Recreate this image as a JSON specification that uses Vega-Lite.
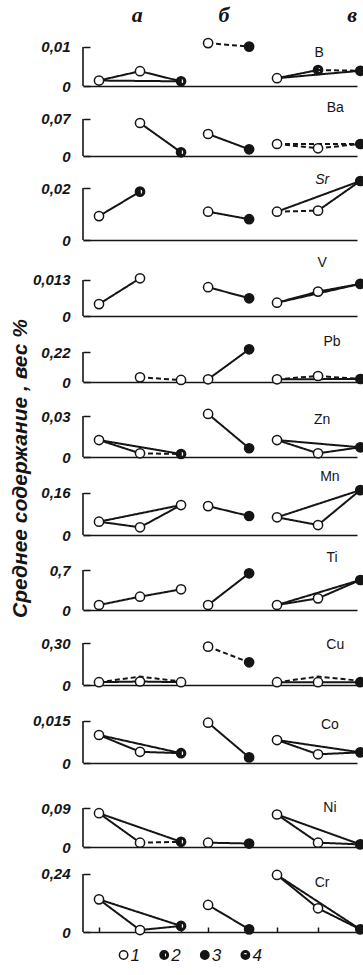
{
"$schema": "https://vega.github.io/schema/vega-lite/v6.json",
"autosize": {"type": "pad"},
"padding": {"left": 8, "top": 0, "right": 0, "bottom": 5},
"spacing": 12,
"bounds": "flush",
"datasets": {
"hdr": [{"h":"а","p":1.93},{"h":"б","p":4.05},{"h":"в","p":7.17}],
"leg": [{"t":"1"},{"t":"2"},{"t":"3"},{"t":"4"}],
"lab": [
{"el":"B","top":0.01,"ly":0.0085,"lp":6.37},
{"el":"Ba","top":0.07,"ly":0.0908,"lp":6.76},
{"el":"Sr","top":0.02,"ly":0.0231,"lp":6.44},
{"el":"V","top":0.013,"ly":0.0191,"lp":6.44},
{"el":"Pb","top":0.22,"ly":0.293,"lp":6.68},
{"el":"Zn","top":0.03,"ly":0.0271,"lp":6.44},
{"el":"Mn","top":0.16,"ly":0.221,"lp":6.63},
{"el":"Ti","top":0.7,"ly":0.91,"lp":6.68},
{"el":"Cu","top":0.3,"ly":0.286,"lp":6.76},
{"el":"Co","top":0.015,"ly":0.0136,"lp":6.63},
{"el":"Ni","top":0.09,"ly":0.09,"lp":6.63},
{"el":"Cr","top":0.24,"ly":0.203,"lp":6.44}
],
"pts": [
{"el":"B","p":1,"v":0.0014,"t":"1"},{"el":"B","p":2,"v":0.0038,"t":"1"},{"el":"B","p":3,"v":0.0012,"t":"2"},{"el":"B","p":3.66,"v":0.011,"t":"1"},{"el":"B","p":4.66,"v":0.0101,"t":"3"},{"el":"B","p":5.34,"v":0.002,"t":"1"},{"el":"B","p":6.34,"v":0.0041,"t":"2"},{"el":"B","p":7.37,"v":0.0039,"t":"3"},
{"el":"Ba","p":2,"v":0.0624,"t":"1"},{"el":"Ba","p":3,"v":0.007,"t":"2"},{"el":"Ba","p":3.66,"v":0.0416,"t":"1"},{"el":"Ba","p":4.66,"v":0.0127,"t":"3"},{"el":"Ba","p":5.34,"v":0.0227,"t":"1"},{"el":"Ba","p":6.34,"v":0.0146,"t":"1"},{"el":"Ba","p":7.37,"v":0.0227,"t":"3"},
{"el":"Sr","p":1,"v":0.0092,"t":"1"},{"el":"Sr","p":2,"v":0.0186,"t":"2"},{"el":"Sr","p":3.66,"v":0.0109,"t":"1"},{"el":"Sr","p":4.66,"v":0.008,"t":"3"},{"el":"Sr","p":5.34,"v":0.0109,"t":"1"},{"el":"Sr","p":6.34,"v":0.0113,"t":"1"},{"el":"Sr","p":7.37,"v":0.0227,"t":"3"},
{"el":"V","p":1,"v":0.0043,"t":"1"},{"el":"V","p":2,"v":0.0136,"t":"1"},{"el":"V","p":3.66,"v":0.0104,"t":"1"},{"el":"V","p":4.66,"v":0.0064,"t":"3"},{"el":"V","p":5.34,"v":0.0048,"t":"1"},{"el":"V","p":6.34,"v":0.0088,"t":"1"},{"el":"V","p":7.37,"v":0.0116,"t":"3"},
{"el":"Pb","p":2,"v":0.034,"t":"1"},{"el":"Pb","p":3,"v":0.015,"t":"1"},{"el":"Pb","p":3.66,"v":0.02,"t":"1"},{"el":"Pb","p":4.66,"v":0.24,"t":"3"},{"el":"Pb","p":5.34,"v":0.02,"t":"1"},{"el":"Pb","p":6.34,"v":0.044,"t":"1"},{"el":"Pb","p":7.37,"v":0.022,"t":"3"},
{"el":"Zn","p":1,"v":0.0124,"t":"1"},{"el":"Zn","p":2,"v":0.0027,"t":"1"},{"el":"Zn","p":3,"v":0.0022,"t":"2"},{"el":"Zn","p":3.66,"v":0.0315,"t":"1"},{"el":"Zn","p":4.66,"v":0.0064,"t":"3"},{"el":"Zn","p":5.34,"v":0.0124,"t":"1"},{"el":"Zn","p":6.34,"v":0.0027,"t":"1"},{"el":"Zn","p":7.37,"v":0.0071,"t":"3"},
{"el":"Mn","p":1,"v":0.0507,"t":"1"},{"el":"Mn","p":2,"v":0.0293,"t":"1"},{"el":"Mn","p":3,"v":0.114,"t":"1"},{"el":"Mn","p":3.66,"v":0.11,"t":"1"},{"el":"Mn","p":4.66,"v":0.0724,"t":"3"},{"el":"Mn","p":5.34,"v":0.0674,"t":"1"},{"el":"Mn","p":6.34,"v":0.038,"t":"1"},{"el":"Mn","p":7.37,"v":0.171,"t":"3"},
{"el":"Ti","p":1,"v":0.0875,"t":"1"},{"el":"Ti","p":2,"v":0.233,"t":"1"},{"el":"Ti","p":3,"v":0.362,"t":"1"},{"el":"Ti","p":3.66,"v":0.0875,"t":"1"},{"el":"Ti","p":4.66,"v":0.642,"t":"3"},{"el":"Ti","p":5.34,"v":0.0875,"t":"1"},{"el":"Ti","p":6.34,"v":0.204,"t":"1"},{"el":"Ti","p":7.37,"v":0.525,"t":"3"},
{"el":"Cu","p":1,"v":0.02,"t":"1"},{"el":"Cu","p":2,"v":0.025,"t":"1"},{"el":"Cu","p":3,"v":0.02,"t":"1"},{"el":"Cu","p":3.66,"v":0.274,"t":"1"},{"el":"Cu","p":4.66,"v":0.162,"t":"3"},{"el":"Cu","p":5.34,"v":0.02,"t":"1"},{"el":"Cu","p":6.34,"v":0.02,"t":"1"},{"el":"Cu","p":7.37,"v":0.02,"t":"3"},
{"el":"Co","p":1,"v":0.01,"t":"1"},{"el":"Co","p":2,"v":0.004,"t":"1"},{"el":"Co","p":3,"v":0.0035,"t":"2"},{"el":"Co","p":3.66,"v":0.0144,"t":"1"},{"el":"Co","p":4.66,"v":0.002,"t":"3"},{"el":"Co","p":5.34,"v":0.0082,"t":"1"},{"el":"Co","p":6.34,"v":0.0031,"t":"1"},{"el":"Co","p":7.37,"v":0.0038,"t":"3"},
{"el":"Ni","p":1,"v":0.078,"t":"1"},{"el":"Ni","p":2,"v":0.01,"t":"1"},{"el":"Ni","p":3,"v":0.012,"t":"2"},{"el":"Ni","p":3.66,"v":0.01,"t":"1"},{"el":"Ni","p":4.66,"v":0.008,"t":"3"},{"el":"Ni","p":5.34,"v":0.075,"t":"1"},{"el":"Ni","p":6.34,"v":0.01,"t":"1"},{"el":"Ni","p":7.37,"v":0.006,"t":"3"},
{"el":"Cr","p":1,"v":0.135,"t":"1"},{"el":"Cr","p":2,"v":0.008,"t":"1"},{"el":"Cr","p":3,"v":0.025,"t":"2"},{"el":"Cr","p":3.66,"v":0.112,"t":"1"},{"el":"Cr","p":4.66,"v":0.011,"t":"3"},{"el":"Cr","p":5.34,"v":0.236,"t":"1"},{"el":"Cr","p":6.34,"v":0.098,"t":"1"},{"el":"Cr","p":7.37,"v":0.011,"t":"3"}
],
"segs": [
{"el":"B","s":"B1","d":"s","p":1,"v":0.0014},{"el":"B","s":"B1","d":"s","p":2,"v":0.0038},
{"el":"B","s":"B2","d":"s","p":2,"v":0.0038},{"el":"B","s":"B2","d":"s","p":3,"v":0.0012},
{"el":"B","s":"B3","d":"s","p":1,"v":0.0014},{"el":"B","s":"B3","d":"s","p":3,"v":0.0012},
{"el":"B","s":"B4","d":"d","p":3.66,"v":0.011},{"el":"B","s":"B4","d":"d","p":4.66,"v":0.0101},
{"el":"B","s":"B5","d":"s","p":5.34,"v":0.002},{"el":"B","s":"B5","d":"s","p":6.34,"v":0.0041},
{"el":"B","s":"B6","d":"d","p":6.34,"v":0.0041},{"el":"B","s":"B6","d":"d","p":7.37,"v":0.0039},
{"el":"B","s":"B7","d":"s","p":5.34,"v":0.002},{"el":"B","s":"B7","d":"s","p":7.37,"v":0.0039},
{"el":"Ba","s":"Ba1","d":"s","p":2,"v":0.0624},{"el":"Ba","s":"Ba1","d":"s","p":3,"v":0.007},
{"el":"Ba","s":"Ba2","d":"s","p":3.66,"v":0.0416},{"el":"Ba","s":"Ba2","d":"s","p":4.66,"v":0.0127},
{"el":"Ba","s":"Ba3","d":"d","p":5.34,"v":0.0227},{"el":"Ba","s":"Ba3","d":"d","p":6.34,"v":0.0146},
{"el":"Ba","s":"Ba4","d":"d","p":6.34,"v":0.0146},{"el":"Ba","s":"Ba4","d":"d","p":7.37,"v":0.0227},
{"el":"Ba","s":"Ba5","d":"d","p":5.34,"v":0.0227},{"el":"Ba","s":"Ba5","d":"d","p":7.37,"v":0.0227},
{"el":"Sr","s":"Sr1","d":"s","p":1,"v":0.0092},{"el":"Sr","s":"Sr1","d":"s","p":2,"v":0.0186},
{"el":"Sr","s":"Sr2","d":"s","p":3.66,"v":0.0109},{"el":"Sr","s":"Sr2","d":"s","p":4.66,"v":0.008},
{"el":"Sr","s":"Sr3","d":"s","p":5.34,"v":0.0109},{"el":"Sr","s":"Sr3","d":"s","p":7.37,"v":0.0227},
{"el":"Sr","s":"Sr4","d":"s","p":6.34,"v":0.0113},{"el":"Sr","s":"Sr4","d":"s","p":7.37,"v":0.0227},
{"el":"Sr","s":"Sr5","d":"d","p":5.34,"v":0.0109},{"el":"Sr","s":"Sr5","d":"d","p":6.34,"v":0.0113},
{"el":"V","s":"V1","d":"s","p":1,"v":0.0043},{"el":"V","s":"V1","d":"s","p":2,"v":0.0136},
{"el":"V","s":"V2","d":"s","p":3.66,"v":0.0104},{"el":"V","s":"V2","d":"s","p":4.66,"v":0.0064},
{"el":"V","s":"V3","d":"s","p":5.34,"v":0.0048},{"el":"V","s":"V3","d":"s","p":6.34,"v":0.0088},
{"el":"V","s":"V4","d":"s","p":6.34,"v":0.0088},{"el":"V","s":"V4","d":"s","p":7.37,"v":0.0116},
{"el":"V","s":"V5","d":"s","p":5.34,"v":0.0048},{"el":"V","s":"V5","d":"s","p":7.37,"v":0.0116},
{"el":"Pb","s":"Pb1","d":"d","p":2,"v":0.034},{"el":"Pb","s":"Pb1","d":"d","p":3,"v":0.015},
{"el":"Pb","s":"Pb2","d":"s","p":3.66,"v":0.02},{"el":"Pb","s":"Pb2","d":"s","p":4.66,"v":0.24},
{"el":"Pb","s":"Pb3","d":"s","p":5.34,"v":0.02},{"el":"Pb","s":"Pb3","d":"s","p":7.37,"v":0.022},
{"el":"Pb","s":"Pb4","d":"d","p":5.34,"v":0.02},{"el":"Pb","s":"Pb4","d":"d","p":6.34,"v":0.044},
{"el":"Pb","s":"Pb5","d":"d","p":6.34,"v":0.044},{"el":"Pb","s":"Pb5","d":"d","p":7.37,"v":0.022},
{"el":"Zn","s":"Zn1","d":"s","p":1,"v":0.0124},{"el":"Zn","s":"Zn1","d":"s","p":2,"v":0.0027},
{"el":"Zn","s":"Zn2","d":"s","p":1,"v":0.0124},{"el":"Zn","s":"Zn2","d":"s","p":3,"v":0.0022},
{"el":"Zn","s":"Zn3","d":"d","p":2,"v":0.0027},{"el":"Zn","s":"Zn3","d":"d","p":3,"v":0.0022},
{"el":"Zn","s":"Zn4","d":"s","p":3.66,"v":0.0315},{"el":"Zn","s":"Zn4","d":"s","p":4.66,"v":0.0064},
{"el":"Zn","s":"Zn5","d":"s","p":5.34,"v":0.0124},{"el":"Zn","s":"Zn5","d":"s","p":6.34,"v":0.0027},
{"el":"Zn","s":"Zn6","d":"s","p":6.34,"v":0.0027},{"el":"Zn","s":"Zn6","d":"s","p":7.37,"v":0.0071},
{"el":"Zn","s":"Zn7","d":"s","p":5.34,"v":0.0124},{"el":"Zn","s":"Zn7","d":"s","p":7.37,"v":0.0071},
{"el":"Mn","s":"Mn1","d":"s","p":1,"v":0.0507},{"el":"Mn","s":"Mn1","d":"s","p":2,"v":0.0293},
{"el":"Mn","s":"Mn2","d":"s","p":2,"v":0.0293},{"el":"Mn","s":"Mn2","d":"s","p":3,"v":0.114},
{"el":"Mn","s":"Mn3","d":"s","p":1,"v":0.0507},{"el":"Mn","s":"Mn3","d":"s","p":3,"v":0.114},
{"el":"Mn","s":"Mn4","d":"s","p":3.66,"v":0.11},{"el":"Mn","s":"Mn4","d":"s","p":4.66,"v":0.0724},
{"el":"Mn","s":"Mn5","d":"s","p":5.34,"v":0.0674},{"el":"Mn","s":"Mn5","d":"s","p":6.34,"v":0.038},
{"el":"Mn","s":"Mn6","d":"s","p":6.34,"v":0.038},{"el":"Mn","s":"Mn6","d":"s","p":7.37,"v":0.171},
{"el":"Mn","s":"Mn7","d":"s","p":5.34,"v":0.0674},{"el":"Mn","s":"Mn7","d":"s","p":7.37,"v":0.171},
{"el":"Ti","s":"Ti1","d":"s","p":1,"v":0.0875},{"el":"Ti","s":"Ti1","d":"s","p":2,"v":0.233},
{"el":"Ti","s":"Ti2","d":"s","p":2,"v":0.233},{"el":"Ti","s":"Ti2","d":"s","p":3,"v":0.362},
{"el":"Ti","s":"Ti3","d":"s","p":3.66,"v":0.0875},{"el":"Ti","s":"Ti3","d":"s","p":4.66,"v":0.642},
{"el":"Ti","s":"Ti4","d":"s","p":5.34,"v":0.0875},{"el":"Ti","s":"Ti4","d":"s","p":6.34,"v":0.204},
{"el":"Ti","s":"Ti5","d":"s","p":6.34,"v":0.204},{"el":"Ti","s":"Ti5","d":"s","p":7.37,"v":0.525},
{"el":"Ti","s":"Ti6","d":"s","p":5.34,"v":0.0875},{"el":"Ti","s":"Ti6","d":"s","p":7.37,"v":0.525},
{"el":"Cu","s":"Cu1","d":"s","p":1,"v":0.02},{"el":"Cu","s":"Cu1","d":"s","p":2,"v":0.025},
{"el":"Cu","s":"Cu2","d":"s","p":2,"v":0.025},{"el":"Cu","s":"Cu2","d":"s","p":3,"v":0.02},
{"el":"Cu","s":"Cu3","d":"d","p":1,"v":0.02},{"el":"Cu","s":"Cu3","d":"d","p":2,"v":0.06},{"el":"Cu","s":"Cu3","d":"d","p":3,"v":0.025},
{"el":"Cu","s":"Cu4","d":"d","p":3.66,"v":0.274},{"el":"Cu","s":"Cu4","d":"d","p":4.66,"v":0.162},
{"el":"Cu","s":"Cu5","d":"s","p":5.34,"v":0.02},{"el":"Cu","s":"Cu5","d":"s","p":6.34,"v":0.02},
{"el":"Cu","s":"Cu6","d":"s","p":6.34,"v":0.02},{"el":"Cu","s":"Cu6","d":"s","p":7.37,"v":0.02},
{"el":"Cu","s":"Cu7","d":"d","p":5.34,"v":0.02},{"el":"Cu","s":"Cu7","d":"d","p":6.34,"v":0.06},{"el":"Cu","s":"Cu7","d":"d","p":7.37,"v":0.03},
{"el":"Co","s":"Co1","d":"s","p":1,"v":0.01},{"el":"Co","s":"Co1","d":"s","p":2,"v":0.004},
{"el":"Co","s":"Co2","d":"s","p":2,"v":0.004},{"el":"Co","s":"Co2","d":"s","p":3,"v":0.0035},
{"el":"Co","s":"Co3","d":"s","p":1,"v":0.01},{"el":"Co","s":"Co3","d":"s","p":3,"v":0.0035},
{"el":"Co","s":"Co4","d":"s","p":3.66,"v":0.0144},{"el":"Co","s":"Co4","d":"s","p":4.66,"v":0.002},
{"el":"Co","s":"Co5","d":"s","p":5.34,"v":0.0082},{"el":"Co","s":"Co5","d":"s","p":6.34,"v":0.0031},
{"el":"Co","s":"Co6","d":"s","p":6.34,"v":0.0031},{"el":"Co","s":"Co6","d":"s","p":7.37,"v":0.0038},
{"el":"Co","s":"Co7","d":"s","p":5.34,"v":0.0082},{"el":"Co","s":"Co7","d":"s","p":7.37,"v":0.0038},
{"el":"Ni","s":"Ni1","d":"s","p":1,"v":0.078},{"el":"Ni","s":"Ni1","d":"s","p":2,"v":0.01},
{"el":"Ni","s":"Ni2","d":"s","p":1,"v":0.078},{"el":"Ni","s":"Ni2","d":"s","p":3,"v":0.012},
{"el":"Ni","s":"Ni3","d":"d","p":2,"v":0.01},{"el":"Ni","s":"Ni3","d":"d","p":3,"v":0.012},
{"el":"Ni","s":"Ni4","d":"s","p":3.66,"v":0.01},{"el":"Ni","s":"Ni4","d":"s","p":4.66,"v":0.008},
{"el":"Ni","s":"Ni5","d":"s","p":5.34,"v":0.075},{"el":"Ni","s":"Ni5","d":"s","p":6.34,"v":0.01},
{"el":"Ni","s":"Ni6","d":"s","p":5.34,"v":0.075},{"el":"Ni","s":"Ni6","d":"s","p":7.37,"v":0.006},
{"el":"Ni","s":"Ni7","d":"s","p":6.34,"v":0.01},{"el":"Ni","s":"Ni7","d":"s","p":7.37,"v":0.006},
{"el":"Cr","s":"Cr1","d":"s","p":1,"v":0.135},{"el":"Cr","s":"Cr1","d":"s","p":2,"v":0.008},
{"el":"Cr","s":"Cr2","d":"s","p":1,"v":0.135},{"el":"Cr","s":"Cr2","d":"s","p":3,"v":0.025},
{"el":"Cr","s":"Cr3","d":"s","p":2,"v":0.008},{"el":"Cr","s":"Cr3","d":"s","p":3,"v":0.025},
{"el":"Cr","s":"Cr4","d":"s","p":3.66,"v":0.112},{"el":"Cr","s":"Cr4","d":"s","p":4.66,"v":0.011},
{"el":"Cr","s":"Cr5","d":"s","p":5.34,"v":0.236},{"el":"Cr","s":"Cr5","d":"s","p":6.34,"v":0.098},
{"el":"Cr","s":"Cr6","d":"s","p":6.34,"v":0.098},{"el":"Cr","s":"Cr6","d":"s","p":7.37,"v":0.011},
{"el":"Cr","s":"Cr7","d":"s","p":5.34,"v":0.236},{"el":"Cr","s":"Cr7","d":"s","p":7.37,"v":0.011}
]
},
"vconcat": [
{"height":30,"width":274,"data":{"name":"hdr"},"mark":{"type":"text","font":"Liberation Serif","fontSize":22,"fontStyle":"italic","fontWeight":"bold","color":"#151515"},"encoding":{"x":{"field":"p","type":"quantitative","title":null,"axis":null,"scale":{"domain":[0.61,7.29],"nice":false,"zero":false}},"text":{"field":"h","type":"nominal"}}},
{"height":44,"width":274,"layer":[
{"data":{"name":"lab"},"transform":[{"filter":"datum.el=='B'"},{"calculate":"0.61","as":"x0"},{"calculate":"0","as":"z"}],"mark":{"type":"rule","color":"#151515","strokeWidth":1.6},"encoding":{"x":{"field":"x0","type":"quantitative","title":null,"scale":{"domain":[0.61,7.29],"nice":false,"zero":false}},"y":{"field":"z","type":"quantitative","title":null,"scale":{"domain":[0,0.01128],"nice":false}},"y2":{"field":"top"}}},
{"data":{"name":"segs"},"transform":[{"filter":"datum.el=='B'"}],"mark":{"type":"line","color":"#151515","strokeWidth":2},"encoding":{"x":{"field":"p","type":"quantitative","title":null,"scale":{"domain":[0.61,7.29],"nice":false,"zero":false}},"y":{"field":"v","type":"quantitative","title":null,"scale":{"domain":[0,0.01128],"nice":false},"axis":{"values":[0,0.005,0.01],"labelExpr":"datum.value==0?'0':datum.value==0.01?'0,01':''"}},"detail":{"field":"s","type":"nominal"},"strokeDash":{"field":"d","type":"nominal","scale":{"domain":["s","d"],"range":[[1,0],[5,3]]},"legend":null}}},
{"data":{"name":"pts"},"transform":[{"filter":"datum.el=='B'"}],"mark":{"type":"point","filled":false,"color":"#151515","stroke":"#151515","strokeWidth":1.5,"size":85,"opacity":1},"encoding":{"x":{"field":"p","type":"quantitative","title":null,"scale":{"domain":[0.61,7.29],"nice":false,"zero":false}},"y":{"field":"v","type":"quantitative","title":null,"scale":{"domain":[0,0.01128],"nice":false}},"shape":{"field":"t","type":"nominal","legend":null,"scale":{"domain":["1","2","3","4"],"range":["circle","M1,0A1,1,0,1,1,-1,0A1,1,0,1,1,1,0ZM0.65,0A0.65,0.65,0,1,0,-0.65,0A0.65,0.65,0,1,0,0.65,0ZM0,-0.65A0.65,0.65,0,0,0,0,0.65Z","circle","M1,0A1,1,0,1,1,-1,0A1,1,0,1,1,1,0ZM0.65,0A0.65,0.65,0,1,0,-0.65,0A0.65,0.65,0,1,0,0.65,0ZM-0.65,0A0.65,0.65,0,0,0,0.65,0Z"]}},"fill":{"field":"t","type":"nominal","legend":null,"scale":{"domain":["1","2","3","4"],"range":["#ffffff","#151515","#151515","#151515"]}}}},
{"data":{"name":"lab"},"transform":[{"filter":"datum.el=='B'"}],"mark":{"type":"text","font":"Liberation Sans","fontSize":14,"color":"#151515"},"encoding":{"x":{"field":"lp","type":"quantitative","title":null,"scale":{"domain":[0.61,7.29],"nice":false,"zero":false}},"y":{"field":"ly","type":"quantitative","title":null,"scale":{"domain":[0,0.01128],"nice":false}},"text":{"field":"el","type":"nominal"}}}
]},
{"height":58,"width":274,"layer":[
{"data":{"name":"lab"},"transform":[{"filter":"datum.el=='Ba'"},{"calculate":"0.61","as":"x0"},{"calculate":"0","as":"z"}],"mark":{"type":"rule","color":"#151515","strokeWidth":1.6},"encoding":{"x":{"field":"x0","type":"quantitative","title":null,"scale":{"domain":[0.61,7.29],"nice":false,"zero":false}},"y":{"field":"z","type":"quantitative","title":null,"scale":{"domain":[0,0.1097],"nice":false}},"y2":{"field":"top"}}},
{"data":{"name":"segs"},"transform":[{"filter":"datum.el=='Ba'"}],"mark":{"type":"line","color":"#151515","strokeWidth":2},"encoding":{"x":{"field":"p","type":"quantitative","title":null,"scale":{"domain":[0.61,7.29],"nice":false,"zero":false}},"y":{"field":"v","type":"quantitative","title":null,"scale":{"domain":[0,0.1097],"nice":false},"axis":{"values":[0,0.035,0.07],"labelExpr":"datum.value==0?'0':datum.value==0.07?'0,07':''"}},"detail":{"field":"s","type":"nominal"},"strokeDash":{"field":"d","type":"nominal","scale":{"domain":["s","d"],"range":[[1,0],[5,3]]},"legend":null}}},
{"data":{"name":"pts"},"transform":[{"filter":"datum.el=='Ba'"}],"mark":{"type":"point","filled":false,"color":"#151515","stroke":"#151515","strokeWidth":1.5,"size":85,"opacity":1},"encoding":{"x":{"field":"p","type":"quantitative","title":null,"scale":{"domain":[0.61,7.29],"nice":false,"zero":false}},"y":{"field":"v","type":"quantitative","title":null,"scale":{"domain":[0,0.1097],"nice":false}},"shape":{"field":"t","type":"nominal","legend":null},"fill":{"field":"t","type":"nominal","legend":null}}},
{"data":{"name":"lab"},"transform":[{"filter":"datum.el=='Ba'"}],"mark":{"type":"text","font":"Liberation Sans","fontSize":14,"color":"#151515"},"encoding":{"x":{"field":"lp","type":"quantitative","title":null,"scale":{"domain":[0.61,7.29],"nice":false,"zero":false}},"y":{"field":"ly","type":"quantitative","title":null,"scale":{"domain":[0,0.1097],"nice":false}},"text":{"field":"el","type":"nominal"}}}
]},
{"height":72,"width":274,"layer":[
{"data":{"name":"lab"},"transform":[{"filter":"datum.el=='Sr'"},{"calculate":"0.61","as":"x0"},{"calculate":"0","as":"z"}],"mark":{"type":"rule","color":"#151515","strokeWidth":1.6},"encoding":{"x":{"field":"x0","type":"quantitative","title":null,"scale":{"domain":[0.61,7.29],"nice":false,"zero":false}},"y":{"field":"z","type":"quantitative","title":null,"scale":{"domain":[0,0.0277],"nice":false}},"y2":{"field":"top"}}},
{"data":{"name":"segs"},"transform":[{"filter":"datum.el=='Sr'"}],"mark":{"type":"line","color":"#151515","strokeWidth":2},"encoding":{"x":{"field":"p","type":"quantitative","title":null,"scale":{"domain":[0.61,7.29],"nice":false,"zero":false}},"y":{"field":"v","type":"quantitative","title":null,"scale":{"domain":[0,0.0277],"nice":false},"axis":{"values":[0,0.01,0.02],"labelExpr":"datum.value==0?'0':datum.value==0.02?'0,02':''"}},"detail":{"field":"s","type":"nominal"},"strokeDash":{"field":"d","type":"nominal","scale":{"domain":["s","d"],"range":[[1,0],[5,3]]},"legend":null}}},
{"data":{"name":"pts"},"transform":[{"filter":"datum.el=='Sr'"}],"mark":{"type":"point","filled":false,"color":"#151515","stroke":"#151515","strokeWidth":1.5,"size":85,"opacity":1},"encoding":{"x":{"field":"p","type":"quantitative","title":null,"scale":{"domain":[0.61,7.29],"nice":false,"zero":false}},"y":{"field":"v","type":"quantitative","title":null,"scale":{"domain":[0,0.0277],"nice":false}},"shape":{"field":"t","type":"nominal","legend":null},"fill":{"field":"t","type":"nominal","legend":null}}},
{"data":{"name":"lab"},"transform":[{"filter":"datum.el=='Sr'"}],"mark":{"type":"text","font":"Liberation Sans","fontSize":14,"fontStyle":"italic","color":"#151515"},"encoding":{"x":{"field":"lp","type":"quantitative","title":null,"scale":{"domain":[0.61,7.29],"nice":false,"zero":false}},"y":{"field":"ly","type":"quantitative","title":null,"scale":{"domain":[0,0.0277],"nice":false}},"text":{"field":"el","type":"nominal"}}}
]},
{"height":64,"width":274,"layer":[
{"data":{"name":"lab"},"transform":[{"filter":"datum.el=='V'"},{"calculate":"0.61","as":"x0"},{"calculate":"0","as":"z"}],"mark":{"type":"rule","color":"#151515","strokeWidth":1.6},"encoding":{"x":{"field":"x0","type":"quantitative","title":null,"scale":{"domain":[0.61,7.29],"nice":false,"zero":false}},"y":{"field":"z","type":"quantitative","title":null,"scale":{"domain":[0,0.0231],"nice":false}},"y2":{"field":"top"}}},
{"data":{"name":"segs"},"transform":[{"filter":"datum.el=='V'"}],"mark":{"type":"line","color":"#151515","strokeWidth":2},"encoding":{"x":{"field":"p","type":"quantitative","title":null,"scale":{"domain":[0.61,7.29],"nice":false,"zero":false}},"y":{"field":"v","type":"quantitative","title":null,"scale":{"domain":[0,0.0231],"nice":false},"axis":{"values":[0,0.0065,0.013],"labelExpr":"datum.value==0?'0':datum.value==0.013?'0,013':''"}},"detail":{"field":"s","type":"nominal"},"strokeDash":{"field":"d","type":"nominal","scale":{"domain":["s","d"],"range":[[1,0],[5,3]]},"legend":null}}},
{"data":{"name":"pts"},"transform":[{"filter":"datum.el=='V'"}],"mark":{"type":"point","filled":false,"color":"#151515","stroke":"#151515","strokeWidth":1.5,"size":85,"opacity":1},"encoding":{"x":{"field":"p","type":"quantitative","title":null,"scale":{"domain":[0.61,7.29],"nice":false,"zero":false}},"y":{"field":"v","type":"quantitative","title":null,"scale":{"domain":[0,0.0231],"nice":false}},"shape":{"field":"t","type":"nominal","legend":null},"fill":{"field":"t","type":"nominal","legend":null}}},
{"data":{"name":"lab"},"transform":[{"filter":"datum.el=='V'"}],"mark":{"type":"text","font":"Liberation Sans","fontSize":14,"color":"#151515"},"encoding":{"x":{"field":"lp","type":"quantitative","title":null,"scale":{"domain":[0.61,7.29],"nice":false,"zero":false}},"y":{"field":"ly","type":"quantitative","title":null,"scale":{"domain":[0,0.0231],"nice":false}},"text":{"field":"el","type":"nominal"}}}
]},
{"height":54,"width":274,"layer":[
{"data":{"name":"lab"},"transform":[{"filter":"datum.el=='Pb'"},{"calculate":"0.61","as":"x0"},{"calculate":"0","as":"z"}],"mark":{"type":"rule","color":"#151515","strokeWidth":1.6},"encoding":{"x":{"field":"x0","type":"quantitative","title":null,"scale":{"domain":[0.61,7.29],"nice":false,"zero":false}},"y":{"field":"z","type":"quantitative","title":null,"scale":{"domain":[0,0.396],"nice":false}},"y2":{"field":"top"}}},
{"data":{"name":"segs"},"transform":[{"filter":"datum.el=='Pb'"}],"mark":{"type":"line","color":"#151515","strokeWidth":2},"encoding":{"x":{"field":"p","type":"quantitative","title":null,"scale":{"domain":[0.61,7.29],"nice":false,"zero":false}},"y":{"field":"v","type":"quantitative","title":null,"scale":{"domain":[0,0.396],"nice":false},"axis":{"values":[0,0.11,0.22],"labelExpr":"datum.value==0?'0':datum.value==0.22?'0,22':''"}},"detail":{"field":"s","type":"nominal"},"strokeDash":{"field":"d","type":"nominal","scale":{"domain":["s","d"],"range":[[1,0],[5,3]]},"legend":null}}},
{"data":{"name":"pts"},"transform":[{"filter":"datum.el=='Pb'"}],"mark":{"type":"point","filled":false,"color":"#151515","stroke":"#151515","strokeWidth":1.5,"size":85,"opacity":1},"encoding":{"x":{"field":"p","type":"quantitative","title":null,"scale":{"domain":[0.61,7.29],"nice":false,"zero":false}},"y":{"field":"v","type":"quantitative","title":null,"scale":{"domain":[0,0.396],"nice":false}},"shape":{"field":"t","type":"nominal","legend":null},"fill":{"field":"t","type":"nominal","legend":null}}},
{"data":{"name":"lab"},"transform":[{"filter":"datum.el=='Pb'"}],"mark":{"type":"text","font":"Liberation Sans","fontSize":14,"color":"#151515"},"encoding":{"x":{"field":"lp","type":"quantitative","title":null,"scale":{"domain":[0.61,7.29],"nice":false,"zero":false}},"y":{"field":"ly","type":"quantitative","title":null,"scale":{"domain":[0,0.396],"nice":false}},"text":{"field":"el","type":"nominal"}}}
]},
{"height":63,"width":274,"layer":[
{"data":{"name":"lab"},"transform":[{"filter":"datum.el=='Zn'"},{"calculate":"0.61","as":"x0"},{"calculate":"0","as":"z"}],"mark":{"type":"rule","color":"#151515","strokeWidth":1.6},"encoding":{"x":{"field":"x0","type":"quantitative","title":null,"scale":{"domain":[0.61,7.29],"nice":false,"zero":false}},"y":{"field":"z","type":"quantitative","title":"Среднее  содержание ,  вес  %","scale":{"domain":[0,0.0461],"nice":false}},"y2":{"field":"top"}}},
{"data":{"name":"segs"},"transform":[{"filter":"datum.el=='Zn'"}],"mark":{"type":"line","color":"#151515","strokeWidth":2},"encoding":{"x":{"field":"p","type":"quantitative","title":null,"scale":{"domain":[0.61,7.29],"nice":false,"zero":false}},"y":{"field":"v","type":"quantitative","title":"Среднее  содержание ,  вес  %","scale":{"domain":[0,0.0461],"nice":false},"axis":{"values":[0,0.01,0.02,0.03],"labelExpr":"datum.value==0?'0':datum.value==0.03?'0,03':''","titleX":-63,"titleY":74,"titleAngle":270,"titleAlign":"center","titleBaseline":"middle"}},"detail":{"field":"s","type":"nominal"},"strokeDash":{"field":"d","type":"nominal","scale":{"domain":["s","d"],"range":[[1,0],[5,3]]},"legend":null}}},
{"data":{"name":"pts"},"transform":[{"filter":"datum.el=='Zn'"}],"mark":{"type":"point","filled":false,"color":"#151515","stroke":"#151515","strokeWidth":1.5,"size":85,"opacity":1},"encoding":{"x":{"field":"p","type":"quantitative","title":null,"scale":{"domain":[0.61,7.29],"nice":false,"zero":false}},"y":{"field":"v","type":"quantitative","title":"Среднее  содержание ,  вес  %","scale":{"domain":[0,0.0461],"nice":false}},"shape":{"field":"t","type":"nominal","legend":null},"fill":{"field":"t","type":"nominal","legend":null}}},
{"data":{"name":"lab"},"transform":[{"filter":"datum.el=='Zn'"}],"mark":{"type":"text","font":"Liberation Sans","fontSize":14,"color":"#151515"},"encoding":{"x":{"field":"lp","type":"quantitative","title":null,"scale":{"domain":[0.61,7.29],"nice":false,"zero":false}},"y":{"field":"ly","type":"quantitative","title":"Среднее  содержание ,  вес  %","scale":{"domain":[0,0.0461],"nice":false}},"text":{"field":"el","type":"nominal"}}}
]},
{"height":66,"width":274,"layer":[
{"data":{"name":"lab"},"transform":[{"filter":"datum.el=='Mn'"},{"calculate":"0.61","as":"x0"},{"calculate":"0","as":"z"}],"mark":{"type":"rule","color":"#151515","strokeWidth":1.6},"encoding":{"x":{"field":"x0","type":"quantitative","title":null,"scale":{"domain":[0.61,7.29],"nice":false,"zero":false}},"y":{"field":"z","type":"quantitative","title":null,"scale":{"domain":[0,0.2514],"nice":false}},"y2":{"field":"top"}}},
{"data":{"name":"segs"},"transform":[{"filter":"datum.el=='Mn'"}],"mark":{"type":"line","color":"#151515","strokeWidth":2},"encoding":{"x":{"field":"p","type":"quantitative","title":null,"scale":{"domain":[0.61,7.29],"nice":false,"zero":false}},"y":{"field":"v","type":"quantitative","title":null,"scale":{"domain":[0,0.2514],"nice":false},"axis":{"values":[0,0.08,0.16],"labelExpr":"datum.value==0?'0':datum.value==0.16?'0,16':''"}},"detail":{"field":"s","type":"nominal"},"strokeDash":{"field":"d","type":"nominal","scale":{"domain":["s","d"],"range":[[1,0],[5,3]]},"legend":null}}},
{"data":{"name":"pts"},"transform":[{"filter":"datum.el=='Mn'"}],"mark":{"type":"point","filled":false,"color":"#151515","stroke":"#151515","strokeWidth":1.5,"size":85,"opacity":1},"encoding":{"x":{"field":"p","type":"quantitative","title":null,"scale":{"domain":[0.61,7.29],"nice":false,"zero":false}},"y":{"field":"v","type":"quantitative","title":null,"scale":{"domain":[0,0.2514],"nice":false}},"shape":{"field":"t","type":"nominal","legend":null},"fill":{"field":"t","type":"nominal","legend":null}}},
{"data":{"name":"lab"},"transform":[{"filter":"datum.el=='Mn'"}],"mark":{"type":"text","font":"Liberation Sans","fontSize":14,"color":"#151515"},"encoding":{"x":{"field":"lp","type":"quantitative","title":null,"scale":{"domain":[0.61,7.29],"nice":false,"zero":false}},"y":{"field":"ly","type":"quantitative","title":null,"scale":{"domain":[0,0.2514],"nice":false}},"text":{"field":"el","type":"nominal"}}}
]},
{"height":63,"width":274,"layer":[
{"data":{"name":"lab"},"transform":[{"filter":"datum.el=='Ti'"},{"calculate":"0.61","as":"x0"},{"calculate":"0","as":"z"}],"mark":{"type":"rule","color":"#151515","strokeWidth":1.6},"encoding":{"x":{"field":"x0","type":"quantitative","title":null,"scale":{"domain":[0.61,7.29],"nice":false,"zero":false}},"y":{"field":"z","type":"quantitative","title":null,"scale":{"domain":[0,1.1025],"nice":false}},"y2":{"field":"top"}}},
{"data":{"name":"segs"},"transform":[{"filter":"datum.el=='Ti'"}],"mark":{"type":"line","color":"#151515","strokeWidth":2},"encoding":{"x":{"field":"p","type":"quantitative","title":null,"scale":{"domain":[0.61,7.29],"nice":false,"zero":false}},"y":{"field":"v","type":"quantitative","title":null,"scale":{"domain":[0,1.1025],"nice":false},"axis":{"values":[0,0.35,0.7],"labelExpr":"datum.value==0?'0':datum.value==0.7?'0,7':''"}},"detail":{"field":"s","type":"nominal"},"strokeDash":{"field":"d","type":"nominal","scale":{"domain":["s","d"],"range":[[1,0],[5,3]]},"legend":null}}},
{"data":{"name":"pts"},"transform":[{"filter":"datum.el=='Ti'"}],"mark":{"type":"point","filled":false,"color":"#151515","stroke":"#151515","strokeWidth":1.5,"size":85,"opacity":1},"encoding":{"x":{"field":"p","type":"quantitative","title":null,"scale":{"domain":[0.61,7.29],"nice":false,"zero":false}},"y":{"field":"v","type":"quantitative","title":null,"scale":{"domain":[0,1.1025],"nice":false}},"shape":{"field":"t","type":"nominal","legend":null},"fill":{"field":"t","type":"nominal","legend":null}}},
{"data":{"name":"lab"},"transform":[{"filter":"datum.el=='Ti'"}],"mark":{"type":"text","font":"Liberation Sans","fontSize":14,"color":"#151515"},"encoding":{"x":{"field":"lp","type":"quantitative","title":null,"scale":{"domain":[0.61,7.29],"nice":false,"zero":false}},"y":{"field":"ly","type":"quantitative","title":null,"scale":{"domain":[0,1.1025],"nice":false}},"text":{"field":"el","type":"nominal"}}}
]},
{"height":63,"width":274,"layer":[
{"data":{"name":"lab"},"transform":[{"filter":"datum.el=='Cu'"},{"calculate":"0.61","as":"x0"},{"calculate":"0","as":"z"}],"mark":{"type":"rule","color":"#151515","strokeWidth":1.6},"encoding":{"x":{"field":"x0","type":"quantitative","title":null,"scale":{"domain":[0.61,7.29],"nice":false,"zero":false}},"y":{"field":"z","type":"quantitative","title":null,"scale":{"domain":[0,0.45],"nice":false}},"y2":{"field":"top"}}},
{"data":{"name":"segs"},"transform":[{"filter":"datum.el=='Cu'"}],"mark":{"type":"line","color":"#151515","strokeWidth":2},"encoding":{"x":{"field":"p","type":"quantitative","title":null,"scale":{"domain":[0.61,7.29],"nice":false,"zero":false}},"y":{"field":"v","type":"quantitative","title":null,"scale":{"domain":[0,0.45],"nice":false},"axis":{"values":[0,0.15,0.3],"labelExpr":"datum.value==0?'0':datum.value==0.3?'0,30':''"}},"detail":{"field":"s","type":"nominal"},"strokeDash":{"field":"d","type":"nominal","scale":{"domain":["s","d"],"range":[[1,0],[5,3]]},"legend":null}}},
{"data":{"name":"pts"},"transform":[{"filter":"datum.el=='Cu'"}],"mark":{"type":"point","filled":false,"color":"#151515","stroke":"#151515","strokeWidth":1.5,"size":85,"opacity":1},"encoding":{"x":{"field":"p","type":"quantitative","title":null,"scale":{"domain":[0.61,7.29],"nice":false,"zero":false}},"y":{"field":"v","type":"quantitative","title":null,"scale":{"domain":[0,0.45],"nice":false}},"shape":{"field":"t","type":"nominal","legend":null},"fill":{"field":"t","type":"nominal","legend":null}}},
{"data":{"name":"lab"},"transform":[{"filter":"datum.el=='Cu'"}],"mark":{"type":"text","font":"Liberation Sans","fontSize":14,"color":"#151515"},"encoding":{"x":{"field":"lp","type":"quantitative","title":null,"scale":{"domain":[0.61,7.29],"nice":false,"zero":false}},"y":{"field":"ly","type":"quantitative","title":null,"scale":{"domain":[0,0.45],"nice":false}},"text":{"field":"el","type":"nominal"}}}
]},
{"height":66,"width":274,"layer":[
{"data":{"name":"lab"},"transform":[{"filter":"datum.el=='Co'"},{"calculate":"0.61","as":"x0"},{"calculate":"0","as":"z"}],"mark":{"type":"rule","color":"#151515","strokeWidth":1.6},"encoding":{"x":{"field":"x0","type":"quantitative","title":null,"scale":{"domain":[0.61,7.29],"nice":false,"zero":false}},"y":{"field":"z","type":"quantitative","title":null,"scale":{"domain":[0,0.02357],"nice":false}},"y2":{"field":"top"}}},
{"data":{"name":"segs"},"transform":[{"filter":"datum.el=='Co'"}],"mark":{"type":"line","color":"#151515","strokeWidth":2},"encoding":{"x":{"field":"p","type":"quantitative","title":null,"scale":{"domain":[0.61,7.29],"nice":false,"zero":false}},"y":{"field":"v","type":"quantitative","title":null,"scale":{"domain":[0,0.02357],"nice":false},"axis":{"values":[0,0.005,0.01,0.015],"labelExpr":"datum.value==0?'0':datum.value==0.015?'0,015':''"}},"detail":{"field":"s","type":"nominal"},"strokeDash":{"field":"d","type":"nominal","scale":{"domain":["s","d"],"range":[[1,0],[5,3]]},"legend":null}}},
{"data":{"name":"pts"},"transform":[{"filter":"datum.el=='Co'"}],"mark":{"type":"point","filled":false,"color":"#151515","stroke":"#151515","strokeWidth":1.5,"size":85,"opacity":1},"encoding":{"x":{"field":"p","type":"quantitative","title":null,"scale":{"domain":[0.61,7.29],"nice":false,"zero":false}},"y":{"field":"v","type":"quantitative","title":null,"scale":{"domain":[0,0.02357],"nice":false}},"shape":{"field":"t","type":"nominal","legend":null},"fill":{"field":"t","type":"nominal","legend":null}}},
{"data":{"name":"lab"},"transform":[{"filter":"datum.el=='Co'"}],"mark":{"type":"text","font":"Liberation Sans","fontSize":14,"color":"#151515"},"encoding":{"x":{"field":"lp","type":"quantitative","title":null,"scale":{"domain":[0.61,7.29],"nice":false,"zero":false}},"y":{"field":"ly","type":"quantitative","title":null,"scale":{"domain":[0,0.02357],"nice":false}},"text":{"field":"el","type":"nominal"}}}
]},
{"height":72,"width":274,"layer":[
{"data":{"name":"lab"},"transform":[{"filter":"datum.el=='Ni'"},{"calculate":"0.61","as":"x0"},{"calculate":"0","as":"z"}],"mark":{"type":"rule","color":"#151515","strokeWidth":1.6},"encoding":{"x":{"field":"x0","type":"quantitative","title":null,"scale":{"domain":[0.61,7.29],"nice":false,"zero":false}},"y":{"field":"z","type":"quantitative","title":null,"scale":{"domain":[0,0.1662],"nice":false}},"y2":{"field":"top"}}},
{"data":{"name":"segs"},"transform":[{"filter":"datum.el=='Ni'"}],"mark":{"type":"line","color":"#151515","strokeWidth":2},"encoding":{"x":{"field":"p","type":"quantitative","title":null,"scale":{"domain":[0.61,7.29],"nice":false,"zero":false}},"y":{"field":"v","type":"quantitative","title":null,"scale":{"domain":[0,0.1662],"nice":false},"axis":{"values":[0,0.045,0.09],"labelExpr":"datum.value==0?'0':datum.value==0.09?'0,09':''"}},"detail":{"field":"s","type":"nominal"},"strokeDash":{"field":"d","type":"nominal","scale":{"domain":["s","d"],"range":[[1,0],[5,3]]},"legend":null}}},
{"data":{"name":"pts"},"transform":[{"filter":"datum.el=='Ni'"}],"mark":{"type":"point","filled":false,"color":"#151515","stroke":"#151515","strokeWidth":1.5,"size":85,"opacity":1},"encoding":{"x":{"field":"p","type":"quantitative","title":null,"scale":{"domain":[0.61,7.29],"nice":false,"zero":false}},"y":{"field":"v","type":"quantitative","title":null,"scale":{"domain":[0,0.1662],"nice":false}},"shape":{"field":"t","type":"nominal","legend":null},"fill":{"field":"t","type":"nominal","legend":null}}},
{"data":{"name":"lab"},"transform":[{"filter":"datum.el=='Ni'"}],"mark":{"type":"text","font":"Liberation Sans","fontSize":14,"color":"#151515"},"encoding":{"x":{"field":"lp","type":"quantitative","title":null,"scale":{"domain":[0.61,7.29],"nice":false,"zero":false}},"y":{"field":"ly","type":"quantitative","title":null,"scale":{"domain":[0,0.1662],"nice":false}},"text":{"field":"el","type":"nominal"}}}
]},
{"height":73,"width":274,"layer":[
{"data":{"name":"lab"},"transform":[{"filter":"datum.el=='Cr'"},{"calculate":"0.61","as":"x0"},{"calculate":"0","as":"z"}],"mark":{"type":"rule","color":"#151515","strokeWidth":1.6},"encoding":{"x":{"field":"x0","type":"quantitative","title":null,"scale":{"domain":[0.61,7.29],"nice":false,"zero":false}},"y":{"field":"z","type":"quantitative","title":null,"scale":{"domain":[0,0.302],"nice":false}},"y2":{"field":"top"}}},
{"data":{"name":"segs"},"transform":[{"filter":"datum.el=='Cr'"}],"mark":{"type":"line","color":"#151515","strokeWidth":2},"encoding":{"x":{"field":"p","type":"quantitative","title":null,"scale":{"domain":[0.61,7.29],"nice":false,"zero":false},"axis":{"values":[1,2,3,3.66,5.34,6.34],"ticks":true,"tickSize":-5,"tickWidth":1.5}},"y":{"field":"v","type":"quantitative","title":null,"scale":{"domain":[0,0.302],"nice":false},"axis":{"values":[0,0.06,0.12,0.18,0.24],"labelExpr":"datum.value==0?'0':datum.value==0.24?'0,24':''"}},"detail":{"field":"s","type":"nominal"},"strokeDash":{"field":"d","type":"nominal","scale":{"domain":["s","d"],"range":[[1,0],[5,3]]},"legend":null}}},
{"data":{"name":"pts"},"transform":[{"filter":"datum.el=='Cr'"}],"mark":{"type":"point","filled":false,"color":"#151515","stroke":"#151515","strokeWidth":1.5,"size":85,"opacity":1},"encoding":{"x":{"field":"p","type":"quantitative","title":null,"scale":{"domain":[0.61,7.29],"nice":false,"zero":false}},"y":{"field":"v","type":"quantitative","title":null,"scale":{"domain":[0,0.302],"nice":false}},"shape":{"field":"t","type":"nominal","legend":null},"fill":{"field":"t","type":"nominal","legend":null}}},
{"data":{"name":"lab"},"transform":[{"filter":"datum.el=='Cr'"}],"mark":{"type":"text","font":"Liberation Sans","fontSize":14,"color":"#151515"},"encoding":{"x":{"field":"lp","type":"quantitative","title":null,"scale":{"domain":[0.61,7.29],"nice":false,"zero":false}},"y":{"field":"ly","type":"quantitative","title":null,"scale":{"domain":[0,0.302],"nice":false}},"text":{"field":"el","type":"nominal"}}}
]},
{"height":22,"width":203,"data":{"name":"leg"},"layer":[
{"mark":{"type":"point","filled":false,"color":"#151515","stroke":"#151515","strokeWidth":1.5,"size":70,"opacity":1},"encoding":{"x":{"field":"t","type":"nominal","title":null,"axis":null,"scale":{"type":"point","padding":1.149}},"shape":{"field":"t","type":"nominal","legend":null},"fill":{"field":"t","type":"nominal","legend":null}}},
{"mark":{"type":"text","align":"left","dx":7,"dy":1,"font":"Liberation Sans","fontSize":17,"fontStyle":"italic","color":"#151515"},"encoding":{"x":{"field":"t","type":"nominal","title":null,"axis":null,"scale":{"type":"point","padding":1.149}},"text":{"field":"t","type":"nominal"}}}
]}
],
"resolve": {"scale": {"x": "independent", "y": "independent", "shape": "shared", "fill": "shared", "strokeDash": "shared"}},
"config": {
"view": {"stroke": null},
"axis": {"grid": false, "labelColor": "#151515", "domainColor": "#151515", "tickColor": "#151515"},
"axisX": {"domainWidth": 1.6, "ticks": false, "labels": false},
"axisY": {"domain": false, "ticks": true, "tickSize": -7, "tickWidth": 1.5, "labelPadding": 20, "labelFont": "Liberation Sans", "labelFontSize": 15, "labelFontStyle": "italic", "labelFontWeight": "bold", "titleFont": "Liberation Sans", "titleFontSize": 21, "titleFontStyle": "italic", "titleFontWeight": "bold", "titleColor": "#151515"}
}
}
